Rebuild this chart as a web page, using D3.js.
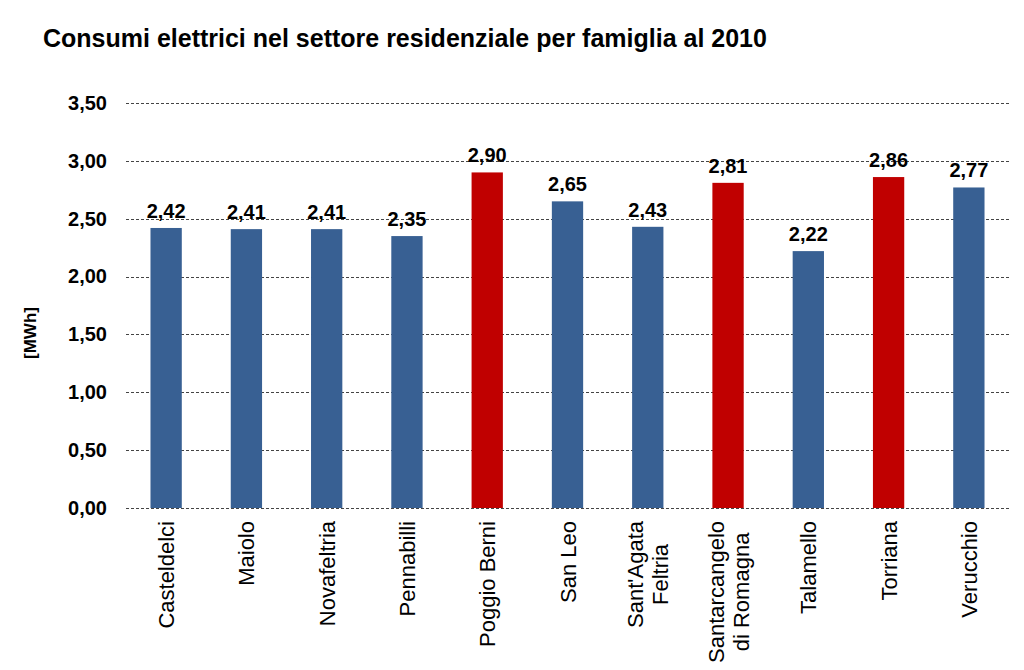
<!DOCTYPE html>
<html><head><meta charset="utf-8">
<script src="https://cdn.jsdelivr.net/npm/d3@7"></script>
<style>body{margin:0;background:#fff}svg{display:block}text{font-family:"Liberation Sans",Arial,sans-serif}</style>
</head><body>
<svg id="c" width="1024" height="670"></svg>
<script>
const categories = ["Casteldelci","Maiolo","Novafeltria","Pennabilli","Poggio Berni","San Leo","Sant'Agata\nFeltria","Santarcangelo\ndi Romagna","Talamello","Torriana","Verucchio"];
const values = [2.42,2.41,2.41,2.35,2.90,2.65,2.43,2.81,2.22,2.86,2.77];
const highlighted = [false,false,false,false,true,false,false,true,false,true,false];
const yTicks = [0,0.5,1,1.5,2,2.5,3,3.5];
const title = "Consumi elettrici nel settore residenziale per famiglia al 2010";
const yLabel = "[MWh]";

const svg = d3.select("#c");
const x = d3.scaleBand().domain(categories).range([126,1009]).paddingInner(0.61).paddingOuter(0.305);
const y = d3.scaleLinear().domain([0,3.5]).range([508,103]);
const fmt = v => d3.format(".2f")(v).replace(".", ",");

svg.append("text").attr("x",43).attr("y",47).attr("font-size",25).attr("font-weight","bold").attr("fill","#000").text(title);

// grid
svg.append("g").selectAll("line").data(yTicks).join("line")
  .attr("x1",126).attr("x2",1010).attr("y1",d=>Math.round(y(d))+0.5).attr("y2",d=>Math.round(y(d))+0.5)
  .attr("stroke","#444").attr("stroke-width",1).attr("stroke-dasharray","3,2");

// y axis labels
const yAxis = d3.axisLeft(y).tickValues(yTicks).tickFormat(fmt).tickSize(0).tickPadding(0);
const ga = svg.append("g").attr("transform","translate(107,0)").call(yAxis);
ga.select(".domain").remove();
ga.selectAll("text").attr("font-size",20).attr("font-weight","bold").attr("fill","#000").attr("font-family","Liberation Sans, Arial, sans-serif");

svg.append("text").attr("transform","translate(36,333) rotate(-90)").attr("text-anchor","middle")
  .attr("font-size",17).attr("font-weight","bold").text(yLabel);

// bars
svg.append("g").selectAll("rect").data(categories).join("rect")
  .attr("x",d=>x(d)).attr("width",x.bandwidth())
  .attr("y",(d,i)=>y(values[i])).attr("height",(d,i)=>y(0)-y(values[i]))
  .attr("fill",(d,i)=>highlighted[i]?"#C00000":"#386093");

// value labels
svg.append("g").selectAll("text").data(categories).join("text")
  .attr("x",d=>x(d)+x.bandwidth()/2).attr("y",(d,i)=>y(values[i])-10)
  .attr("text-anchor","middle").attr("font-size",20).attr("font-weight","bold").text((d,i)=>fmt(values[i]));

// x labels
const xl = svg.append("g");
categories.forEach(c => {
  const lines = c.split("\n");
  const cx = x(c) + x.bandwidth()/2;
  const g = xl.append("g");
  const ts = lines.map(l => g.append("text").attr("font-size",22).text(l));
  const maxLen = d3.max(ts, t => t.node().getComputedTextLength());
  const n = lines.length;
  const lh = 25;
  ts.forEach((t,k) => {
    const off = (k - (n-1)/2) * lh + 8;
    t.attr("text-anchor","middle")
     .attr("transform",`translate(${cx+off},${521+maxLen/2}) rotate(-90)`);
  });
});
</script>
</body></html>
